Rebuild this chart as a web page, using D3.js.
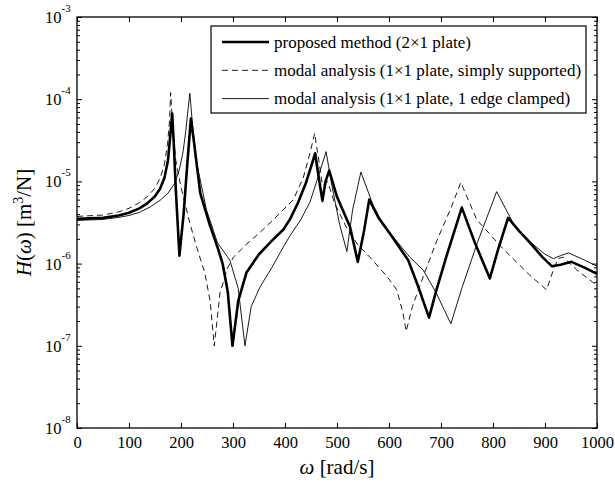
<!DOCTYPE html>
<html>
<head>
<meta charset="utf-8">
<script src="https://cdn.jsdelivr.net/npm/d3@7"></script>
<style>
  body { margin: 0; background: #fff; }
  svg { font-family: "Liberation Serif", "Times New Roman", serif; }
</style>
</head>
<body>
<div id="div_id_main"></div>
<script>

// --- data ---------------------------------------------------------------

const vOmega_Proposed = [0, 50, 80, 100, 120, 135, 150, 160, 168, 175, 180, 183, 186, 190, 197, 205, 212, 219, 225, 237, 255, 270, 280, 290, 299, 310, 326, 350, 375, 397, 410, 425, 440, 450, 458, 465, 472, 478, 485, 500, 525, 540, 552, 562, 580, 602, 637, 655, 677, 690, 710, 740, 765, 794, 810, 829, 850, 871, 895, 913, 930, 951, 975, 1000];
const vH_Proposed     = [3.5e-6, 3.6e-6, 3.85e-6, 4.15e-6, 4.7e-6, 5.4e-6, 6.6e-6, 8.2e-6, 1.1e-5, 1.8e-5, 4e-5, 6.7e-5, 3e-5, 8e-6, 1.25e-6, 4e-6, 1.6e-5, 5.8e-5, 3e-5, 7.2e-6, 3e-6, 1.6e-6, 1.0e-6, 4.5e-7, 1.0e-7, 3.5e-7, 7.8e-7, 1.3e-6, 1.9e-6, 2.6e-6, 3.5e-6, 5.5e-6, 9.5e-6, 1.5e-5, 2.2e-5, 1.1e-5, 5.8e-6, 1e-5, 1.35e-5, 6.5e-6, 2.8e-6, 1.05e-6, 2.5e-6, 6e-6, 3.6e-6, 2.3e-6, 1.1e-6, 5.5e-7, 2.2e-7, 4.5e-7, 1.2e-6, 4.8e-6, 1.8e-6, 6.6e-7, 1.5e-6, 3.6e-6, 2.5e-6, 1.8e-6, 1.2e-6, 9.3e-7, 9.7e-7, 1.05e-6, 9e-7, 7.5e-7];

const vOmega_Simply = [0, 50, 80, 100, 120, 135, 150, 160, 168, 174, 178, 180, 183, 190, 200, 217, 230, 246, 256, 264, 275, 290, 301, 325, 352, 385, 416, 435, 448, 457, 465, 472, 482, 495, 520, 540, 563, 596, 615, 627, 633, 645, 666, 692, 720, 738, 769, 820, 871, 903, 915, 925, 935, 960, 1000];
const vH_Simply     = [3.75e-6, 3.9e-6, 4.25e-6, 4.7e-6, 5.5e-6, 6.5e-6, 8.3e-6, 1.1e-5, 1.6e-5, 2.8e-5, 5.5e-5, 1.2e-4, 6e-5, 1.8e-5, 8.5e-6, 3.1e-6, 1.6e-6, 7.6e-7, 3.5e-7, 1.0e-7, 4.4e-7, 9e-7, 1.2e-6, 1.7e-6, 2.4e-6, 3.8e-6, 6e-6, 1.1e-5, 2.2e-5, 3.85e-5, 1.8e-5, 9e-6, 1.0e-5, 5.5e-6, 2.6e-6, 1.7e-6, 1.2e-6, 7e-7, 4.8e-7, 2.5e-7, 1.5e-7, 3e-7, 7e-7, 1.9e-6, 4.9e-6, 9.7e-6, 3.4e-6, 1.5e-6, 7.2e-7, 4.8e-7, 8e-7, 1.15e-6, 1.2e-6, 8.5e-7, 5.4e-7];

const vOmega_Clamped = [0, 50, 80, 100, 120, 141, 160, 175, 188, 197, 204, 209, 213, 217, 222, 230, 249, 270, 294, 310, 323, 335, 352, 375, 397, 410, 430, 448, 464, 479, 490, 505, 519, 530, 546, 570, 590, 640, 666, 690, 719, 740, 770, 807, 840, 871, 900, 916, 930, 945, 970, 1000];
const vH_Clamped     = [3.35e-6, 3.45e-6, 3.65e-6, 3.85e-6, 4.2e-6, 4.9e-6, 5.9e-6, 7.2e-6, 9.5e-6, 1.4e-5, 2.3e-5, 4e-5, 7e-5, 1.18e-4, 5e-5, 1.7e-5, 4.5e-6, 1.8e-6, 1.1e-6, 5e-7, 1.0e-7, 3e-7, 5.2e-7, 9e-7, 1.6e-6, 2.2e-6, 3.4e-6, 5.6e-6, 1.15e-5, 2.3e-5, 9e-6, 3e-6, 1.4e-6, 4.5e-6, 1.3e-5, 5e-6, 2.9e-6, 1.2e-6, 8.3e-7, 4.5e-7, 1.85e-7, 5e-7, 1.8e-6, 7.5e-6, 3e-6, 1.85e-6, 1.3e-6, 1.15e-6, 1.25e-6, 1.35e-6, 1.15e-6, 9.3e-7];

const vSeriesNames = ["proposed method (2\u00d71 plate)",
                      "modal analysis (1\u00d71 plate, simply supported)",
                      "modal analysis (1\u00d71 plate, 1 edge clamped)"];

const vOmegaTicks = [0, 100, 200, 300, 400, 500, 600, 700, 800, 900, 1000];
const vExpTicks   = [-8, -7, -6, -5, -4, -3];

// --- layout ---------------------------------------------------------------

const WIDTH = 615, HEIGHT = 485;
const PLOT_L = 77, PLOT_R = 597, PLOT_T = 17, PLOT_B = 428;
const TICK_FONT = 16.5;

let fScale_Omega = d3.scaleLinear().domain([0, 1000]).range([PLOT_L, PLOT_R]);
let fScale_H     = d3.scaleLog().domain([1e-8, 1e-3]).range([PLOT_B, PLOT_T]);

let svgMain = d3.select("#div_id_main").append("svg")
                  .attr("width", WIDTH)
                  .attr("height", HEIGHT);

svgMain.append("defs").append("clipPath")
         .attr("id", "clip_plot")
       .append("rect")
         .attr("x", PLOT_L).attr("y", PLOT_T)
         .attr("width", PLOT_R - PLOT_L).attr("height", PLOT_B - PLOT_T);

// --- ticks ------------------------------------------------------------------

let vDecades = vExpTicks.map(e => Math.pow(10, e));
let vMinor = [];
for (let e = -8; e < -3; e++)
  for (let m = 2; m <= 9; m++)
    vMinor.push(m * Math.pow(10, e));

function funcStyleAxis(g) {
  g.select(".domain").remove();
  g.selectAll("line").attr("stroke", "#000").attr("stroke-width", 1);
}

svgMain.append("g")
         .attr("transform", "translate(0," + PLOT_B + ")")
         .call(d3.axisBottom(fScale_Omega).tickValues(vOmegaTicks).tickSize(-5).tickPadding(8)
                 .tickFormat(d3.format("d")))
         .call(funcStyleAxis)
         .call(g => g.selectAll("text").attr("font-size", TICK_FONT).attr("fill", "#000")
                                         .attr("font-family", "Liberation Serif"));

svgMain.append("g")
         .attr("transform", "translate(0," + PLOT_T + ")")
         .call(d3.axisTop(fScale_Omega).tickValues(vOmegaTicks).tickSize(-5).tickFormat(""))
         .call(funcStyleAxis);

svgMain.append("g")
         .attr("transform", "translate(" + PLOT_L + ",0)")
         .call(d3.axisLeft(fScale_H).tickValues(vDecades).tickSize(-5).tickFormat(""))
         .call(funcStyleAxis);

svgMain.append("g")
         .attr("transform", "translate(" + PLOT_L + ",0)")
         .call(d3.axisLeft(fScale_H).tickValues(vMinor).tickSize(-3).tickFormat(""))
         .call(funcStyleAxis);

svgMain.append("g")
         .attr("transform", "translate(" + PLOT_R + ",0)")
         .call(d3.axisRight(fScale_H).tickValues(vDecades).tickSize(-5).tickFormat(""))
         .call(funcStyleAxis);

svgMain.append("g")
         .attr("transform", "translate(" + PLOT_R + ",0)")
         .call(d3.axisRight(fScale_H).tickValues(vMinor).tickSize(-3).tickFormat(""))
         .call(funcStyleAxis);

// y tick labels: 10 with superscript exponent
let gYLabels = svgMain.append("g").attr("font-size", TICK_FONT).attr("fill", "#000");

gYLabels.selectAll("text.text_class_ytick")
  .data(vExpTicks)
  .enter()
    .append("text")
      .attr("class", "text_class_ytick")
      .attr("x", 45)
      .attr("y", e => fScale_H(Math.pow(10, e)) + 6)
      .call(t => t.append("tspan").text("10"))
      .call(t => t.append("tspan")
                   .attr("font-size", 11)
                   .attr("dy", -11)
                   .text(e => "-" + Math.abs(e)));

// --- curves -----------------------------------------------------------------

let lineGen = d3.line()
                .x(d => fScale_Omega(d[0]))
                .y(d => fScale_H(d[1]))
                .curve(d3.curveLinear);

let vSeries = [
  { om: vOmega_Proposed, h: vH_Proposed, w: 2.6, dash: null },
  { om: vOmega_Simply,   h: vH_Simply,   w: 0.9, dash: "6,4" },
  { om: vOmega_Clamped,  h: vH_Clamped,  w: 0.9, dash: null }
];

let gCurves = svgMain.append("g").attr("clip-path", "url(#clip_plot)");

// thin ones first, thick on top
[2, 1, 0].forEach(i => {
  let s = vSeries[i];
  gCurves.append("path")
    .datum(s.om.map((o, k) => [o, s.h[k]]))
    .attr("d", lineGen)
    .attr("fill", "none")
    .attr("stroke", "#000")
    .attr("stroke-width", s.w)
    .attr("stroke-linejoin", "round")
    .attr("stroke-dasharray", s.dash);
});

// frame
svgMain.append("rect")
         .attr("x", PLOT_L).attr("y", PLOT_T)
         .attr("width", PLOT_R - PLOT_L).attr("height", PLOT_B - PLOT_T)
         .attr("fill", "none")
         .attr("stroke", "#000")
         .attr("stroke-width", 1.3);

// --- legend -----------------------------------------------------------------

let gLegend = svgMain.append("g");

gLegend.append("rect")
         .attr("x", 211).attr("y", 26)
         .attr("width", 375).attr("height", 87)
         .attr("fill", "#fff")
         .attr("stroke", "#000")
         .attr("stroke-width", 1.2);

vSeriesNames.forEach((name, i) => {
  let yy = 42 + i * 28.3;
  gLegend.append("line")
           .attr("x1", 222).attr("x2", 269)
           .attr("y1", yy).attr("y2", yy)
           .attr("stroke", "#000")
           .attr("stroke-width", vSeries[i].w)
           .attr("stroke-dasharray", vSeries[i].dash);
  gLegend.append("text")
           .attr("x", 274).attr("y", yy + 5.5)
           .attr("font-size", 17)
           .attr("fill", "#000")
           .text(name);
});

// --- axis titles ------------------------------------------------------------

svgMain.append("text")
         .attr("x", 337).attr("y", 474)
         .attr("text-anchor", "middle")
         .attr("font-size", 21)
         .call(t => t.append("tspan").attr("font-style", "italic").text("\u03c9"))
         .call(t => t.append("tspan").text(" [rad/s]"));

svgMain.append("text")
         .attr("transform", "translate(31," + ((PLOT_T + PLOT_B) / 2) + ") rotate(-90)")
         .attr("text-anchor", "middle")
         .attr("font-size", 21)
         .call(t => t.append("tspan").attr("font-style", "italic").text("H"))
         .call(t => t.append("tspan").text("("))
         .call(t => t.append("tspan").attr("font-style", "italic").text("\u03c9"))
         .call(t => t.append("tspan").text(") [m"))
         .call(t => t.append("tspan").attr("font-size", 14).attr("dy", -8).text("3"))
         .call(t => t.append("tspan").attr("dy", 8).text("/N]"));

</script>
</body>
</html>
